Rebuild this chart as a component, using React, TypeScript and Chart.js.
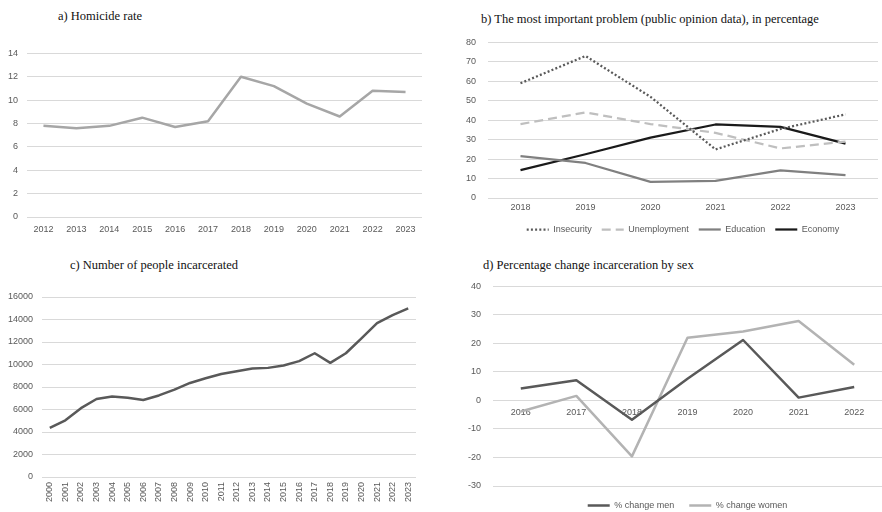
import React, { useEffect, useRef } from "react";
import { Chart, registerables } from "chart.js";

Chart.register(...registerables);

// a) Homicide rate
const homicideYears = ["2012", "2013", "2014", "2015", "2016", "2017", "2018", "2019", "2020", "2021", "2022", "2023"];
const homicideRate = [7.8, 7.6, 7.8, 8.5, 7.7, 8.2, 12.0, 11.2, 9.7, 8.6, 10.8, 10.7];

// b) Most important problem, %
const opinionYears = ["2018", "2019", "2020", "2021", "2022", "2023"];
const insecurity = [59, 73, 52, 25, 35.5, 43];
const unemployment = [38, 44, 38, 33.5, 25.5, 29];
const education = [21.5, 18, 8.3, 8.8, 14.2, 11.7];
const economy = [14.3, 22.5, 31, 37.8, 36.6, 28];

// c) Number of people incarcerated
const prisonYears = [
  "2000", "2001", "2002", "2003", "2004", "2005", "2006", "2007", "2008", "2009", "2010", "2011",
  "2012", "2013", "2014", "2015", "2016", "2017", "2018", "2019", "2020", "2021", "2022", "2023",
];
const incarcerated = [
  4370, 5040, 6120, 6930, 7160, 7040, 6840, 7250, 7760, 8360, 8780, 9160,
  9400, 9640, 9700, 9910, 10300, 11000, 10150, 11000, 12330, 13670, 14390, 14990,
];

// d) Percentage change in incarceration by sex
const sexYears = ["2016", "2017", "2018", "2019", "2020", "2021", "2022"];
const changeMen = [4.2, 7.1, -6.8, 7.6, 21.2, 1.0, 4.7];
const changeWomen = [-3.9, 1.6, -19.6, 22.0, 24.2, 27.9, 12.5];

const SANS = "'Liberation Sans', Arial, sans-serif";
const SERIF = "'Liberation Serif', 'Times New Roman', serif";
const TICK_COLOR = "#595959";
const GRID_COLOR = "#d9d9d9";
const tickFont = { family: SANS, size: 9 };

type Box = { left: number; top: number; width: number; height: number };

function fixedWidth(w: number) {
  return (scale: any) => {
    scale.width = w;
  };
}
function fixedHeight(h: number) {
  return (scale: any) => {
    scale.height = h;
  };
}

function Panel({ box, title, titleX, titleY, makeConfig }: {
  box: Box;
  title: string;
  titleX: number;
  titleY: number;
  makeConfig: () => any;
}) {
  const ref = useRef<HTMLCanvasElement | null>(null);
  useEffect(() => {
    if (!ref.current) return;
    const chart = new Chart(ref.current, makeConfig());
    return () => chart.destroy();
  }, []);
  return (
    <>
      <div
        style={{
          position: "absolute",
          left: titleX,
          top: titleY - 7,
          fontFamily: SERIF,
          fontSize: 12.5,
          lineHeight: "14px",
          color: "#111",
          whiteSpace: "nowrap",
        }}
      >
        {title}
      </div>
      <div style={{ position: "absolute", left: box.left, top: box.top, width: box.width, height: box.height }}>
        <canvas ref={ref} width={box.width} height={box.height} style={{ width: box.width, height: box.height }} />
      </div>
    </>
  );
}

const lineDefaults = {
  pointRadius: 0,
  pointHoverRadius: 0,
  tension: 0,
  fill: false,
  borderJoinStyle: "round" as const,
};

function xCategoryAxis(extra: any = {}) {
  return {
    offset: true,
    grid: { display: false, drawTicks: false, offset: true },
    border: { display: false },
    ...extra,
    ticks: { font: tickFont, color: TICK_COLOR, maxRotation: 0, autoSkip: false, ...(extra.ticks || {}) },
  };
}

function yValueAxis(min: number, max: number, step: number, width: number, padding: number, extra: any = {}) {
  return {
    min,
    max,
    ticks: { stepSize: step, font: tickFont, color: TICK_COLOR, padding, ...(extra.ticks || {}) },
    grid: { color: GRID_COLOR, drawTicks: false },
    border: { display: false },
    afterFit: fixedWidth(width),
  };
}

// Legend entries drawn as short line samples carrying each dataset's dash pattern
function legendLabels(padding: number) {
  return {
    font: tickFont,
    color: TICK_COLOR,
    usePointStyle: true,
    pointStyle: "line",
    pointStyleWidth: 22,
    boxWidth: 22,
    boxHeight: 4,
    padding,
    generateLabels: (chart: any) => {
      const items = Chart.defaults.plugins.legend.labels.generateLabels(chart);
      items.forEach((item: any) => {
        const ds = chart.data.datasets[item.datasetIndex];
        item.lineDash = ds.borderDash || [];
        item.lineWidth = ds.borderWidth;
        item.strokeStyle = ds.borderColor;
        item.fillStyle = ds.borderColor;
        item.pointStyle = "line";
      });
      return items;
    },
  };
}

const noPadding = { top: 0, right: 0, left: 0, bottom: 0 };

function homicideConfig() {
  return {
    type: "line",
    data: {
      labels: homicideYears,
      datasets: [
        { ...lineDefaults, label: "Homicide rate", data: homicideRate, borderColor: "#a6a6a6", borderWidth: 2.5 },
      ],
    },
    options: {
      animation: false,
      responsive: false,
      layout: { padding: { ...noPadding, right: 18 } },
      plugins: { legend: { display: false }, tooltip: { enabled: false } },
      scales: {
        x: xCategoryAxis({ ticks: { padding: 7 }, afterFit: fixedHeight(28) }),
        y: yValueAxis(0, 14, 2, 27, 9),
      },
    },
  };
}

function opinionConfig() {
  return {
    type: "line",
    data: {
      labels: opinionYears,
      datasets: [
        { ...lineDefaults, label: "Insecurity", data: insecurity, borderColor: "#595959", borderWidth: 2.25, borderDash: [2, 2.2] },
        { ...lineDefaults, label: "Unemployment", data: unemployment, borderColor: "#bfbfbf", borderWidth: 2.25, borderDash: [9, 5] },
        { ...lineDefaults, label: "Education", data: education, borderColor: "#808080", borderWidth: 2.25 },
        { ...lineDefaults, label: "Economy", data: economy, borderColor: "#1a1a1a", borderWidth: 2.25 },
      ],
    },
    options: {
      animation: false,
      responsive: false,
      layout: { padding: { ...noPadding, right: 4 } },
      plugins: {
        legend: { position: "bottom", fullSize: false, labels: legendLabels(10) },
        tooltip: { enabled: false },
      },
      scales: {
        x: xCategoryAxis({ ticks: { padding: 4 }, afterFit: fixedHeight(17) }),
        y: yValueAxis(0, 80, 10, 48, 12),
      },
    },
  };
}

function prisonConfig() {
  return {
    type: "line",
    data: {
      labels: prisonYears,
      datasets: [
        { ...lineDefaults, label: "People incarcerated", data: incarcerated, borderColor: "#595959", borderWidth: 2.5 },
      ],
    },
    options: {
      animation: false,
      responsive: false,
      layout: { padding: { top: 17, right: 24, left: 0, bottom: 0 } },
      plugins: { legend: { display: false }, tooltip: { enabled: false } },
      scales: {
        x: xCategoryAxis({
          ticks: { padding: 5, minRotation: 90, maxRotation: 90 },
          afterFit: fixedHeight(35),
        }),
        y: yValueAxis(0, 16000, 2000, 42, 9, { ticks: { callback: (v: number) => String(v) } }),
      },
    },
  };
}

function sexConfig() {
  return {
    type: "line",
    data: {
      labels: sexYears,
      datasets: [
        { ...lineDefaults, label: "% change men", data: changeMen, borderColor: "#595959", borderWidth: 2.5 },
        { ...lineDefaults, label: "% change women", data: changeWomen, borderColor: "#b3b3b3", borderWidth: 2.5 },
      ],
    },
    options: {
      animation: false,
      responsive: false,
      layout: { padding: noPadding },
      plugins: {
        legend: { position: "bottom", fullSize: false, labels: legendLabels(15) },
        tooltip: { enabled: false },
      },
      scales: {
        // category labels sit just under the zero line
        x: xCategoryAxis({ position: { y: 0 }, ticks: { padding: 7 } }),
        y: yValueAxis(-30, 40, 10, 53, 12),
      },
    },
  };
}

export default function App() {
  return (
    <div
      style={{
        position: "fixed",
        left: 0,
        top: 0,
        width: 882,
        height: 512,
        background: "#ffffff",
        overflow: "hidden",
      }}
    >
      <Panel
        box={{ left: 0, top: 39, width: 440, height: 206 }}
        title="a) Homicide rate"
        titleX={58}
        titleY={16}
        makeConfig={homicideConfig}
      />
      <Panel
        box={{ left: 440, top: 25, width: 442, height: 219 }}
        title="b) The most important problem (public opinion data), in percentage"
        titleX={481}
        titleY={19}
        makeConfig={opinionConfig}
      />
      <Panel
        box={{ left: 0, top: 280, width: 440, height: 232 }}
        title="c) Number of people incarcerated"
        titleX={70}
        titleY={265}
        makeConfig={prisonConfig}
      />
      <Panel
        box={{ left: 440, top: 269, width: 442, height: 251 }}
        title="d) Percentage change incarceration by sex"
        titleX={483}
        titleY={265}
        makeConfig={sexConfig}
      />
    </div>
  );
}
